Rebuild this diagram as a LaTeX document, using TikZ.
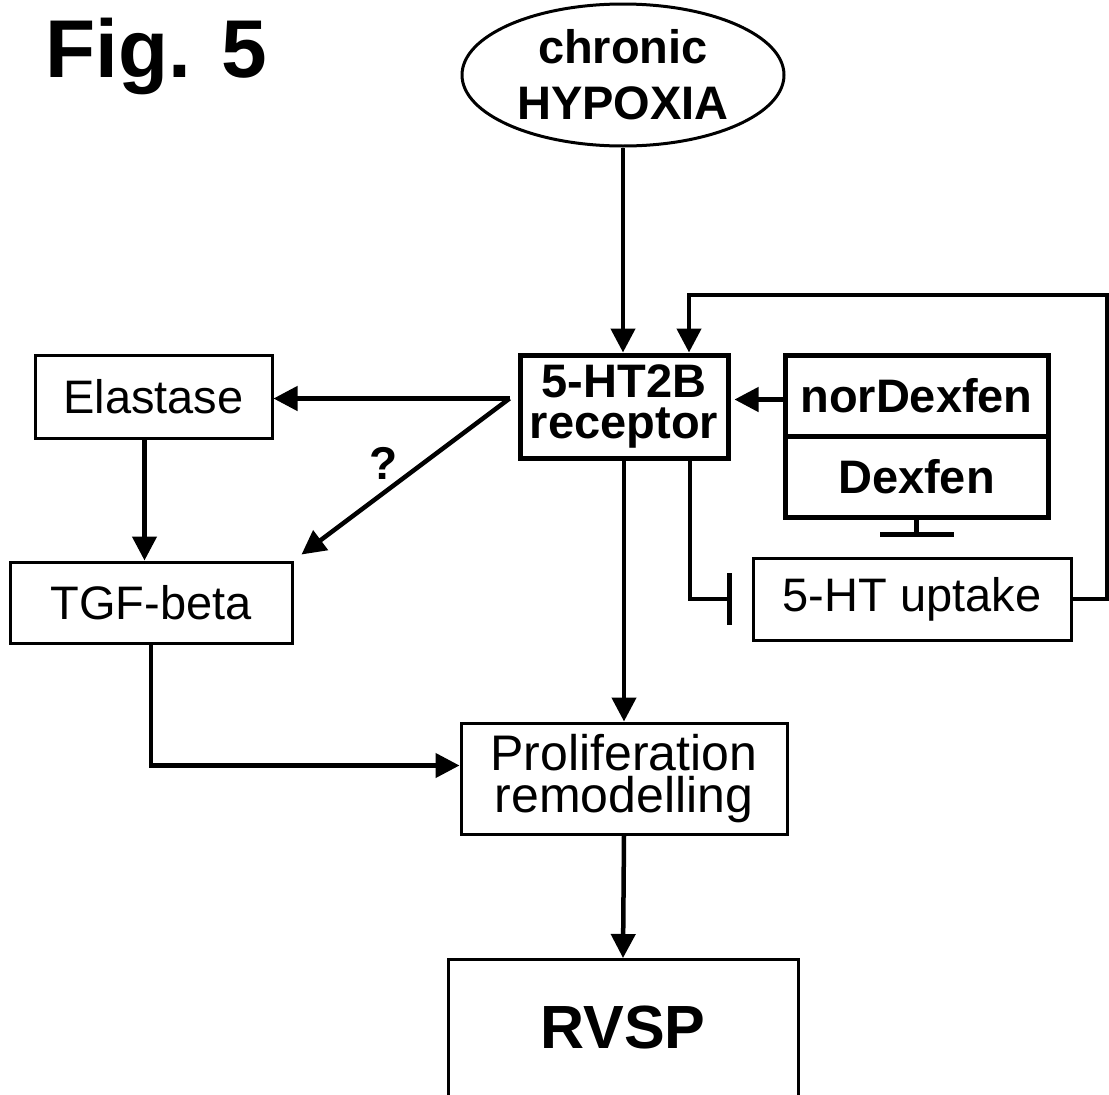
\documentclass[tikz,border=0pt]{standalone}
\usepackage{fontspec}
\setmainfont{Liberation Sans}
\usetikzlibrary{arrows.meta,shapes.geometric,calc}

\newcommand{\fsz}[2]{\fontsize{#1}{#2}\selectfont}

\begin{document}
\begin{tikzpicture}[x=1pt,y=-1pt,
    box/.style={draw,line width=3pt,inner sep=0pt,align=center,font={\fsz{47}{42}}},
    thickbox/.style={draw,line width=5pt,inner sep=0pt,align=center,font={\bfseries\fsz{47}{41}}},
    conn/.style={line width=4.5pt},
    >={Triangle[length=24pt,width=24pt]}]
    \useasboundingbox (0,0) rectangle (1109,1095);
    \clip (0,0) rectangle (1109,1095);
    \node[anchor=base west,inner sep=0pt,font={\bfseries\fsz{82}{82}}] (fig) at (45,77) {Fig. 5};
    \node[draw,ellipse,line width=3pt,minimum width=322pt,minimum height=142pt,inner sep=0pt,
        align=center,font={\bfseries\fsz{47}{56}}] (hyp) at (623,75) {chronic\\HYPOXIA};
    \node[thickbox,minimum width=208pt,minimum height=103pt] (rec) at (624,406.5) {5-HT2B\\receptor};
    \node[thickbox,minimum width=263pt,minimum height=81pt] (nor) at (916.5,395.5) {norDexfen};
    \node[thickbox,minimum width=263pt,minimum height=81pt] (dex) at (916.5,476.5) {Dexfen};
    \node[box,minimum width=237pt,minimum height=83pt] (ela) at (153.5,396.5) {Elastase};
    \node[box,minimum width=282pt,minimum height=81pt] (tgf) at (151,602.5) {TGF-beta};
    \node[box,minimum width=318pt,minimum height=82pt] (upt) at (912,599) {5-HT uptake};
    \node[box,minimum width=326pt,minimum height=111pt,font={\fsz{50}{42}}] (prol) at (624,778.5) {Proliferation\\remodelling};
    \node[box,anchor=north,minimum width=350pt,text height=89pt,text depth=80pt,
        font={\bfseries\fsz{61}{61}}] (rvsp) at (623,958) {RVSP};
    \node[font={\bfseries\fsz{46}{46}}] (q) at (384,463) {?};
    % main chain
    \draw[conn,->] (hyp.south) -- (hyp.south |- rec.north);
    \draw[conn,->] (rec.south) -- (prol.north);
    \draw[conn,->] (prol.south) -- (rvsp.north);
    % left branch
    \coordinate (fork) at ($(rec.west |- ela.east)+(-8,2)$);
    \draw[conn,->] (fork) -- (ela.east |- fork);
    \draw[conn,->,shorten >=10pt] (fork) -- (tgf.north east);
    \draw[conn,->] ($(ela.south)+(-9,0)$) -- ($(ela.south |- tgf.north)+(-9,0)$);
    \draw[conn,->] (tgf.south) |- ($(prol.west)+(0,-13)$);
    % right branch
    \draw[conn,->,shorten >=4pt] ($(nor.west)+(0,4)$) -- ($(rec.east |- nor.west)+(0,4)$);
    \draw[conn,-{Bar[width=74pt]},shorten >=20pt] (dex.south) -- (dex.south |- upt.north);
    \draw[conn,-{Bar[width=52pt]},shorten >=20pt] ($(rec.south)+(66,0)$) |- (upt.west);
    \coordinate (loop) at (1107,295);
    \draw[conn,->] (upt.east) -| (loop) -| ($(rec.north)+(65,0)$);
\end{tikzpicture}
\end{document}
